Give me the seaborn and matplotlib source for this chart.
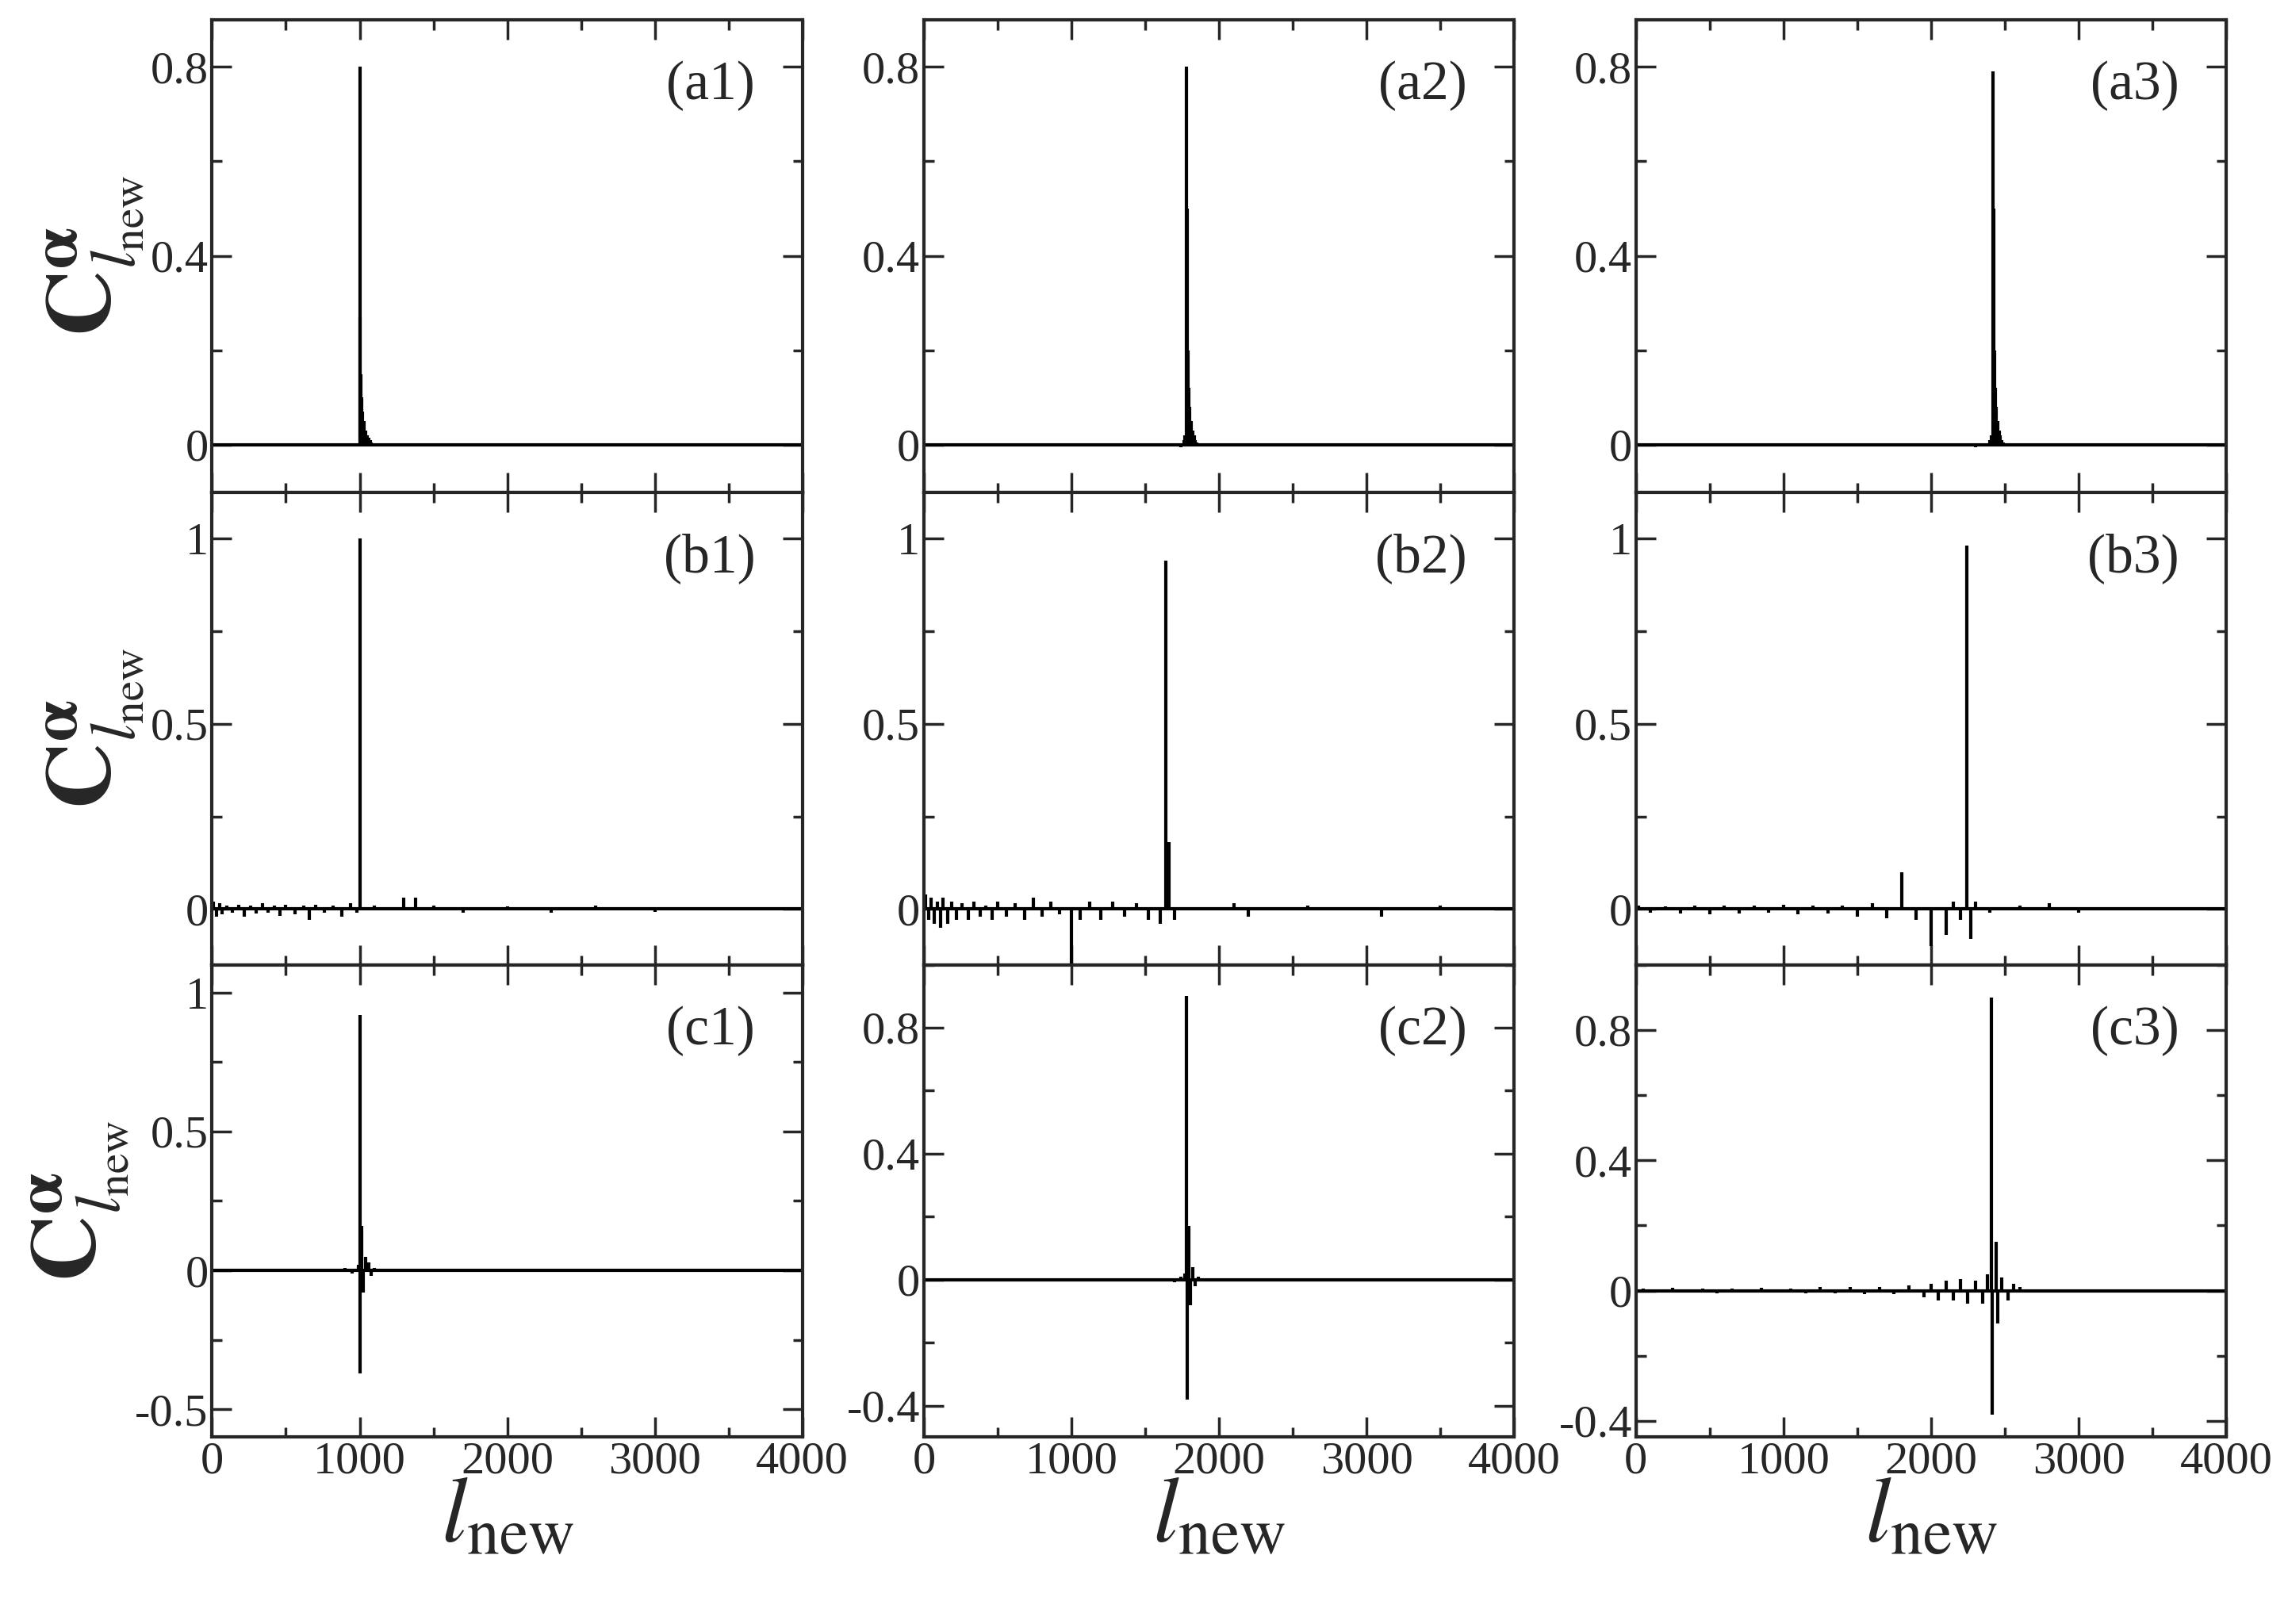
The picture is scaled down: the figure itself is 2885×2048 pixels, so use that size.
import matplotlib
matplotlib.use("Agg")
import matplotlib.pyplot as plt
import seaborn as sns
from matplotlib.ticker import MultipleLocator

sns.set_style("ticks")
plt.rcParams['font.family'] = ['Liberation Serif', 'DejaVu Serif']
plt.rcParams['mathtext.fontset'] = 'stix'

# ---- data: spike positions (l_new) and heights ----
a1_x = [1000, 1005, 1010, 1015, 1020, 1030, 1040, 1050, 1060, 1070, 1080, 200, 400, 600, 800, 900]
a1_y = [0.80, 0.27, 0.15, 0.10, 0.07, 0.05, 0.03, 0.02, 0.015, 0.01, 0.005, -0.003, 0.002, -0.003, 0.003, -0.004]
a2_x = [1760, 1770, 1780, 1785, 1790, 1795, 1800, 1810, 1820, 1830, 1840, 1850, 1740]
a2_y = [0.01, 0.02, 0.80, 0.50, 0.20, 0.12, 0.08, 0.05, 0.03, 0.02, 0.01, 0.005, -0.005]
a3_x = [2400, 2410, 2420, 2425, 2430, 2435, 2440, 2450, 2460, 2470, 2480, 2490, 2000, 2200, 2300]
a3_y = [0.01, 0.02, 0.79, 0.50, 0.20, 0.12, 0.08, 0.05, 0.03, 0.02, 0.01, 0.005, -0.004, 0.004, -0.005]
b1_x = [10, 30, 50, 70, 100, 140, 180, 220, 260, 300, 340, 380, 420, 460, 500, 560, 620, 660, 700, 760, 820, 880, 940, 980, 1000, 1100, 1300, 1380, 1500, 1700, 2000, 2300, 2600, 3000, 3400]
b1_y = [0.02, -0.02, 0.015, -0.015, 0.01, -0.01, 0.012, -0.02, 0.01, -0.012, 0.015, -0.01, 0.01, -0.018, 0.012, -0.015, 0.01, -0.03, 0.012, -0.01, 0.01, -0.02, 0.015, -0.01, 1.0, 0.01, 0.03, 0.03, 0.01, -0.01, 0.008, -0.01, 0.01, -0.008, 0.006]
b2_x = [10, 30, 50, 70, 90, 110, 130, 160, 190, 220, 260, 300, 340, 380, 420, 460, 500, 560, 620, 680, 740, 800, 860, 920, 1000, 1060, 1120, 1200, 1280, 1360, 1440, 1520, 1600, 1640, 1660, 1700, 2100, 2200, 2600, 3100, 3500]
b2_y = [0.04, -0.03, 0.03, -0.04, 0.02, -0.05, 0.03, -0.04, 0.02, -0.03, 0.015, -0.03, 0.02, -0.02, 0.01, -0.03, 0.02, -0.02, 0.015, -0.03, 0.03, -0.02, 0.02, -0.015, -0.15, -0.03, 0.02, -0.03, 0.02, -0.02, 0.015, -0.03, -0.04, 0.94, 0.18, -0.03, 0.015, -0.02, 0.01, -0.02, 0.01]
b3_x = [20, 100, 200, 300, 400, 500, 600, 700, 800, 900, 1000, 1100, 1200, 1300, 1400, 1500, 1600, 1700, 1800, 1900, 2000, 2100, 2150, 2200, 2240, 2270, 2300, 2400, 2600, 2800, 3000, 3300]
b3_y = [0.01, -0.01, 0.008, -0.012, 0.01, -0.015, 0.01, -0.012, 0.01, -0.01, 0.012, -0.015, 0.01, -0.012, 0.01, -0.02, 0.015, -0.025, 0.10, -0.03, -0.10, -0.07, 0.02, -0.03, 0.98, -0.08, 0.02, -0.01, 0.01, 0.015, -0.01, 0.005]
c1_x = [700, 800, 900, 950, 990, 1000, 1005, 1015, 1025, 1040, 1060, 1080, 1100]
c1_y = [0.005, -0.005, 0.008, -0.01, 0.02, 0.92, -0.37, 0.16, -0.08, 0.05, 0.03, -0.02, 0.01]
c2_x = [1600, 1700, 1740, 1770, 1780, 1785, 1795, 1805, 1820, 1840, 1860, 1900]
c2_y = [0.005, -0.008, 0.01, 0.02, 0.90, -0.38, 0.17, -0.08, 0.04, -0.02, 0.01, -0.005]
c3_x = [50, 150, 250, 350, 450, 550, 650, 750, 850, 950, 1050, 1150, 1250, 1350, 1450, 1550, 1650, 1750, 1850, 1950, 2000, 2050, 2100, 2150, 2200, 2250, 2300, 2350, 2380, 2410, 2415, 2440, 2450, 2480, 2520, 2560, 2600]
c3_y = [0.005, -0.006, 0.008, -0.005, 0.006, -0.008, 0.007, -0.006, 0.008, -0.007, 0.006, -0.008, 0.01, -0.008, 0.01, -0.012, 0.012, -0.01, 0.015, -0.02, 0.02, -0.03, 0.03, -0.03, 0.035, -0.04, 0.03, -0.04, 0.05, 0.90, -0.38, 0.15, -0.10, 0.04, -0.03, 0.02, 0.01]

panels = [
    [("(a1)", a1_x, a1_y), ("(a2)", a2_x, a2_y), ("(a3)", a3_x, a3_y)],
    [("(b1)", b1_x, b1_y), ("(b2)", b2_x, b2_y), ("(b3)", b3_x, b3_y)],
    [("(c1)", c1_x, c1_y), ("(c2)", c2_x, c2_y), ("(c3)", c3_x, c3_y)],
]
ylims = [[(-0.1, 0.9)] * 3, [(-0.15, 1.125)] * 3, [(-0.6, 1.1), (-0.5, 1.0), (-0.45, 1.0)]]
yticks = [[[0, 0.4, 0.8]] * 3, [[0, 0.5, 1]] * 3, [[-0.5, 0, 0.5, 1], [-0.4, 0, 0.4, 0.8], [-0.4, 0, 0.4, 0.8]]]
yticklabels = [[["0", "0.4", "0.8"]] * 3, [["0", "0.5", "1"]] * 3,
               [["-0.5", "0", "0.5", "1"], ["-0.4", "0", "0.4", "0.8"], ["-0.4", "0", "0.4", "0.8"]]]

fig, axes = plt.subplots(3, 3, figsize=(28.85, 20.48), dpi=100)
fig.subplots_adjust(left=0.0927, right=0.973, top=0.988, bottom=0.115, wspace=0.206, hspace=0)

for r in range(3):
    for c in range(3):
        ax = axes[r][c]
        lab, xs, ys = panels[r][c]
        ax.axhline(0, color="black", lw=3)
        ax.vlines(xs, 0, ys, color="black", lw=3)
        ax.set_xlim(0, 4000)
        ax.set_ylim(*ylims[r][c])
        ax.set_yticks(yticks[r][c])
        ax.set_yticklabels(yticklabels[r][c])
        step = yticks[r][c][1] - yticks[r][c][0]
        ax.yaxis.set_minor_locator(MultipleLocator(step / 2))
        ax.set_xticks([0, 1000, 2000, 3000, 4000])
        ax.xaxis.set_minor_locator(MultipleLocator(500))
        ax.tick_params(which="both", direction="in", top=True, right=True, width=2.5, labelsize=42)
        ax.tick_params(which="major", length=18)
        ax.tick_params(which="minor", length=9)
        for s in ax.spines.values():
            s.set_linewidth(3)
        if r < 2:
            ax.set_xticklabels([])
        else:
            ax.set_xlabel(r"$\mathit{l}_{\rm new}$", fontsize=84, labelpad=-4)
        ax.text(0.92, 0.86, lab, transform=ax.transAxes, fontsize=50, ha="right", va="center")
        if c == 0:
            ax.set_ylabel(r"$\mathbf{C}^{\mathbf{\alpha}}_{l_{\rm new}}$", fontsize=84, labelpad=4)

fig.savefig("out.png", dpi=100)
